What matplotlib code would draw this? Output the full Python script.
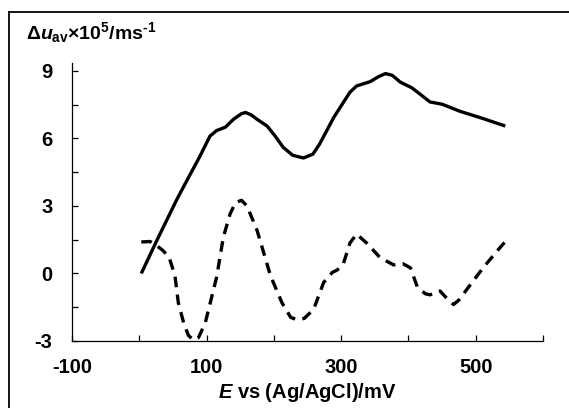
import matplotlib
matplotlib.use("Agg")
import matplotlib.pyplot as plt
from matplotlib.lines import Line2D

plt.rcParams['font.family'] = ['Liberation Sans', 'DejaVu Sans']
plt.rcParams['mathtext.fontset'] = 'custom'
plt.rcParams['mathtext.rm'] = 'Liberation Sans:bold'
plt.rcParams['mathtext.it'] = 'Liberation Sans:italic:bold'
plt.rcParams['mathtext.bf'] = 'Liberation Sans:bold'

# Solid curve
solid_x = [3, 25, 56, 72, 90, 105, 115, 128, 140, 152, 158, 166, 175, 190, 202, 214, 228,
           244, 258, 268, 289, 313, 323, 343, 356, 366, 376, 388, 405, 418, 432, 450, 477, 507, 544]
solid_y = [0.0, 1.4, 3.3, 4.2, 5.2, 6.1, 6.35, 6.5, 6.85, 7.1, 7.15, 7.05, 6.85, 6.55, 6.1,
           5.6, 5.25, 5.13, 5.3, 5.75, 6.93, 8.05, 8.33, 8.52, 8.75, 8.88, 8.8, 8.5, 8.25, 7.95,
           7.62, 7.52, 7.2, 6.92, 6.55]

# Dashed curve
dash_x = [3, 16, 24, 34, 44, 53, 58, 66, 73, 80, 88, 98, 108, 115, 125, 135, 143, 152, 160,
          175, 195, 212, 225, 234, 245, 259, 274, 287, 294, 303, 313, 323, 338, 358, 378, 392,
          403, 413, 425, 432, 447, 460, 467, 475, 492, 511, 531, 544]
dash_y = [1.4, 1.42, 1.27, 1.05, 0.75, -0.1, -1.3, -2.2, -2.75, -2.95, -2.85, -2.2, -1.0,
          -0.15, 1.62, 2.65, 3.15, 3.25, 3.0, 1.92, -0.1, -1.3, -1.95, -2.05, -2.0, -1.6, -0.4,
          0.05, 0.15, 0.4, 1.35, 1.75, 1.35, 0.7, 0.38, 0.43, 0.25, -0.58, -0.9, -0.95, -0.78,
          -1.2, -1.38, -1.18, -0.5, 0.25, 0.97, 1.42]

xticks = [-100, 0, 100, 200, 300, 400, 500, 600]
xticklabels = ['-100', '', '100', '', '300', '', '500', '']
yticks = [-3, -1.5, 0, 1.5, 3, 4.5, 6, 7.5, 9]
yticklabels = ['-3', '', '0', '', '3', '', '6', '', '9']

W, H = 569, 408
fig = plt.figure(figsize=(W / 100, H / 100), dpi=100)
ax = fig.add_axes([72 / W, 1 - 341 / H, (543 - 72) / W, (341 - 63) / H])

ax.plot(solid_x, solid_y, color='black', lw=2.4, solid_joinstyle='round', solid_capstyle='butt')
ax.plot(dash_x, dash_y, color='black', lw=2.4, dashes=(3.2, 2.2), dash_joinstyle='round')

ax.set_xlim(-100, 600)
ax.set_ylim(-3, 9.35)
ax.spines['top'].set_visible(False)
ax.spines['right'].set_visible(False)
for s in ('left', 'bottom'):
    ax.spines[s].set_linewidth(0.9)
ax.set_xticks(xticks)
ax.set_xticklabels(xticklabels, fontsize=14.5, fontweight='bold')
ax.set_yticks(yticks)
ax.set_yticklabels(yticklabels, fontsize=14.5, fontweight='bold')
ax.tick_params(axis='both', direction='in', length=4.5, width=0.9)
ax.tick_params(axis='y', pad=14)
ax.tick_params(axis='x', pad=12)

ax.set_xlabel(r'$\mathit{E}$ vs (Ag/AgCl)/mV', fontsize=14.5, fontweight='bold', labelpad=3)

fig.text(26 / W, 1 - 39 / H,
         r'$\mathrm{\Delta}\mathit{u}_{\mathrm{av}}\mathrm{×10}^{\mathrm{5}}\mathrm{/ms}^{\mathrm{‐1}}$',
         fontsize=14, ha='left', va='baseline')

# figure border (top and left visible)
fig.add_artist(Line2D([9 / W, 9 / W], [0, 1 - 12 / H], color='black', lw=1.3,
                      transform=fig.transFigure))
fig.add_artist(Line2D([9 / W, 1], [1 - 12 / H, 1 - 12 / H], color='black', lw=1.3,
                      transform=fig.transFigure))

fig.savefig('out.png', dpi=100)
